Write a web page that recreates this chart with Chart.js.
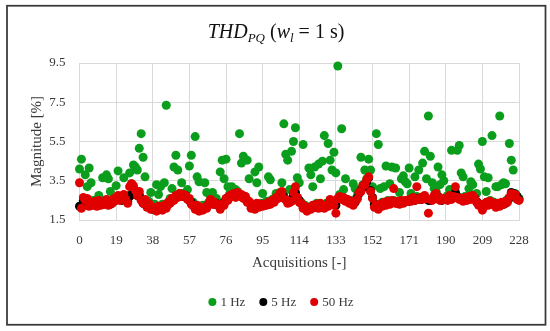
<!DOCTYPE html>
<html><head><meta charset="utf-8">
<script src="https://cdn.jsdelivr.net/npm/chart.js@4.4.1/dist/chart.umd.min.js"></script>
<style>html,body{margin:0;padding:0;background:#fff}canvas{display:block}</style>
</head><body>
<canvas id="c" width="550" height="331"></canvas>
<script>
const seriesNames = ['1 Hz', '5 Hz', '50 Hz'];
const hz1 = [
4.1,4.6,2.5,3.8,3.2,4.15,3.4,2.5,2.45,2.5,
2.75,2.45,3.65,2.5,3.8,3.6,2.95,2.5,2.55,3.25,
4.0,2.65,2.7,3.65,2.75,2.6,3.9,3.35,4.3,4.2,
4.05,5.15,5.9,4.7,3.7,2.4,2.45,2.9,2.2,2.3,
3.3,2.8,3.2,2.3,3.4,7.35,2.4,2.6,3.1,4.2,
4.8,4.05,2.85,3.4,2.85,2.85,3.05,4.25,4.8,2.4,
5.75,3.7,3.45,2.2,2.25,3.4,2.9,2.4,2.6,2.9,
2.45,2.6,2.35,3.95,4.55,3.6,4.6,3.2,2.85,3.2,
2.9,3.05,2.95,5.9,4.4,4.75,2.7,4.55,3.6,2.35,
2.25,3.95,3.4,4.2,2.35,2.85,2.35,2.45,3.7,3.55,
2.55,2.6,2.85,2.8,2.9,3.4,6.4,4.85,4.55,3.05,
5.0,5.5,6.2,3.65,3.4,2.4,5.35,2.25,2.15,4.15,
3.8,3.2,4.2,2.35,4.35,3.6,4.5,5.8,2.35,5.4,
4.55,4.05,4.95,3.9,9.35,2.8,6.15,3.05,3.6,2.55,
2.5,2.5,3.35,3.1,2.7,3.0,4.7,3.3,4.05,3.6,
4.6,4.05,3.2,2.35,5.9,5.35,3.1,2.4,3.2,4.25,
2.5,3.35,4.2,2.5,4.15,2.45,2.9,3.6,3.75,3.45,
3.35,4.15,2.85,2.7,3.7,2.7,4.05,2.65,4.4,5.0,
3.6,6.8,4.75,3.4,3.1,2.95,4.2,3.3,3.8,3.5,
2.65,2.75,3.05,5.05,2.75,2.8,5.05,5.3,3.9,3.7,
2.7,2.65,3.1,3.45,3.3,2.75,2.85,4.35,4.1,5.5,
3.7,2.95,3.65,2.5,5.8,2.4,3.2,3.2,6.8,3.3,
3.4,3.35,2.55,5.4,4.55,4.05,2.85,2.7,2.6
];
const hz5 = [
2.2,2.15,2.5,2.55,2.45,2.3,2.25,2.35,2.35,2.3,
2.4,2.35,2.3,2.35,2.4,2.35,2.3,2.4,2.45,2.55,
2.6,2.55,2.5,2.6,2.6,2.45,2.7,2.8,2.85,2.9,
2.75,2.8,2.55,2.35,2.4,2.25,2.25,2.15,2.05,2.1,
2.05,2.1,2.15,2.1,2.15,2.2,2.3,2.4,2.5,2.55,
2.65,2.7,2.75,2.7,2.7,2.75,2.6,2.5,2.4,2.25,
2.15,2.2,2.1,2.05,2.1,2.1,2.2,2.3,2.45,2.4,
2.3,2.35,2.25,2.15,2.25,2.4,2.55,2.65,2.7,2.7,
2.75,2.7,2.8,2.75,2.7,2.7,2.6,2.5,2.4,2.25,
2.15,2.2,2.3,2.25,2.25,2.3,2.25,2.3,2.3,2.4,
2.45,2.5,2.55,2.65,2.75,2.85,2.7,2.55,2.45,2.4,
2.5,2.75,2.9,2.65,2.5,2.35,2.2,2.15,2.05,2.1,
2.15,2.2,2.15,2.2,2.2,2.25,2.25,2.2,2.2,2.3,
2.45,2.4,2.3,2.25,2.55,2.65,2.6,2.55,2.5,2.45,
2.4,2.35,2.35,2.4,2.6,2.85,3.0,3.15,3.3,3.45,
3.65,3.0,2.65,2.3,2.2,2.15,2.2,2.3,2.3,2.3,
2.35,2.35,2.4,2.45,2.4,2.35,2.4,2.4,2.4,2.45,
2.5,2.45,2.5,2.55,2.5,2.6,2.6,2.55,2.6,2.65,
2.6,2.5,2.5,2.55,2.65,2.8,2.7,2.55,2.5,2.55,
2.55,2.6,2.65,2.6,2.65,2.9,2.7,2.6,2.55,2.5,
2.55,2.55,2.6,2.6,2.65,2.6,2.45,2.35,2.25,2.2,
2.25,2.3,2.3,2.35,2.35,2.3,2.25,2.3,2.25,2.3,
2.3,2.35,2.45,2.6,2.9,2.85,2.8,2.7,2.55
];
const hz50 = [
3.4,2.1,2.65,2.5,2.6,2.2,2.35,2.25,2.45,2.2,
2.5,2.25,2.4,2.3,2.55,2.25,2.4,2.35,2.6,2.5,
2.75,2.5,2.6,2.8,2.55,2.35,3.2,3.35,3.25,3.0,
2.75,2.95,2.5,2.35,2.55,2.15,2.35,2.05,2.15,2.05,
1.95,2.2,2.1,2.0,2.25,2.1,2.4,2.35,2.6,2.5,
2.75,2.65,2.85,2.7,2.8,2.75,2.55,2.6,2.3,2.25,
2.05,2.25,1.95,2.1,2.0,2.15,2.1,2.35,2.55,2.3,
2.4,2.3,2.25,2.05,2.3,2.25,2.6,2.5,2.75,2.7,
2.85,2.65,2.9,2.75,2.8,2.6,2.7,2.4,2.45,2.1,
2.2,2.05,2.35,2.15,2.3,2.2,2.3,2.25,2.4,2.3,
2.5,2.4,2.65,2.6,2.85,2.95,2.6,2.55,2.35,2.4,
2.45,2.9,3.2,2.65,2.4,2.35,2.1,2.2,1.95,2.1,
2.05,2.25,2.15,2.3,2.1,2.35,2.2,2.1,2.25,2.2,
2.55,2.35,2.25,1.85,2.6,2.7,2.55,2.65,2.45,2.55,
2.35,2.45,2.25,2.45,2.55,2.9,2.95,3.25,3.3,3.55,
3.7,2.95,2.6,2.15,2.25,2.05,2.3,2.2,2.4,2.25,
2.45,2.3,2.5,3.1,2.35,2.45,2.3,2.5,2.35,2.5,
2.45,2.55,2.45,2.65,2.5,3.2,2.55,2.65,2.55,2.75,
2.6,1.85,2.55,2.5,2.75,2.85,2.65,2.5,2.6,2.55,
2.6,2.5,2.75,2.55,2.7,3.2,2.65,2.55,2.6,2.45,
2.65,2.5,2.7,2.55,2.75,2.6,2.4,2.25,2.3,2.0,
2.2,2.4,2.25,2.45,2.3,2.35,2.15,2.35,2.2,2.4,
2.3,2.45,2.4,2.65,2.85,2.75,2.8,2.55,2.5
];
const xTicks = [0, 19, 38, 57, 76, 95, 114, 133, 152, 171, 190, 209, 228];
const yTicks = [1.5, 3.5, 5.5, 7.5, 9.5];
const seriesColors = ['#0a9e1c', '#000000', '#e10000'];

const acquisitions = hz1.map((_, i) => i);
function toPoints(vals) { return acquisitions.map(i => ({ x: i, y: vals[i] })); }

const SERIF = "'Liberation Serif', 'Times New Roman', serif";
const TXT = '#3a3a3a';

const decorPlugin = {
  id: 'decor',
  beforeDraw(chart) {
    const ctx = chart.ctx;
    ctx.save();
    ctx.fillStyle = '#fff';
    ctx.fillRect(0, 0, chart.width, chart.height);
    ctx.restore();
  },
  afterDraw(chart) {
    const ctx = chart.ctx;
    ctx.save();
    const parts = [
      { t: 'THD', f: 'italic 20px ' + SERIF, dy: 0 },
      { t: 'PQ', f: 'italic 13px ' + SERIF, dy: 4 },
      { t: ' (', f: '20px ' + SERIF, dy: 0 },
      { t: 'w', f: 'italic 20px ' + SERIF, dy: 0 },
      { t: 'l', f: 'italic 13px ' + SERIF, dy: 4 },
      { t: ' = 1 s)', f: '20px ' + SERIF, dy: 0 }
    ];
    let total = 0;
    parts.forEach(p => { ctx.font = p.f; p.w = ctx.measureText(p.t).width; total += p.w; });
    let x = 276 - total / 2;
    const base = 38;
    ctx.fillStyle = '#111';
    ctx.textBaseline = 'alphabetic';
    ctx.textAlign = 'left';
    parts.forEach(p => { ctx.font = p.f; ctx.fillText(p.t, x, base + p.dy); x += p.w; });

    const legY = 302;
    ctx.font = '13px ' + SERIF;
    ctx.textBaseline = 'middle';
    const items = seriesNames.map((n, i) => ({ n, c: seriesColors[i], w: ctx.measureText(n).width }));
    const gap = 14, dotW = 8, dotGap = 4;
    let lw = 0;
    items.forEach((it, i) => { lw += dotW + dotGap + it.w + (i < items.length - 1 ? gap : 0); });
    let lx = 281 - lw / 2;
    items.forEach(it => {
      ctx.fillStyle = it.c;
      ctx.beginPath();
      ctx.arc(lx + dotW / 2, legY, 4, 0, Math.PI * 2);
      ctx.fill();
      lx += dotW + dotGap;
      ctx.fillStyle = TXT;
      ctx.fillText(it.n, lx, legY + 0.5);
      lx += it.w + gap;
    });

    ctx.strokeStyle = '#383838';
    ctx.lineWidth = 1.75;
    ctx.strokeRect(7, 5.75, 538.5, 319);
    ctx.restore();
  }
};

const ds = (idx, vals, order) => ({
  label: seriesNames[idx],
  data: toPoints(vals),
  backgroundColor: seriesColors[idx],
  borderColor: seriesColors[idx],
  borderWidth: 0,
  pointRadius: 4.5,
  pointHoverRadius: 4.5,
  clip: false,
  order: order
});

new Chart(document.getElementById('c'), {
  type: 'scatter',
  data: {
    datasets: [ds(0, hz1, 2), ds(1, hz5, 1), ds(2, hz50, 0)]
  },
  options: {
    responsive: false,
    animation: false,
    devicePixelRatio: 1,
    layout: { padding: { left: 0, right: 31, top: 63, bottom: 0 } },
    plugins: { legend: { display: false }, tooltip: { enabled: false }, title: { display: false } },
    scales: {
      x: {
        type: 'linear',
        min: 0, max: 228,
        afterBuildTicks: s => { s.ticks = xTicks.map(v => ({ value: v })); },
        afterFit: s => { s.height = 111; },
        grid: { color: '#d9d9d9', lineWidth: 1, drawTicks: false },
        border: { color: '#d9d9d9' },
        ticks: { padding: 13, color: TXT, font: { family: SERIF, size: 13 }, maxRotation: 0, autoSkip: false },
        title: { display: true, text: 'Acquisitions [-]', color: TXT, font: { family: SERIF, size: 15 }, padding: { top: 0, bottom: 59 } }
      },
      y: {
        type: 'linear',
        min: 1.5, max: 9.5,
        afterBuildTicks: s => { s.ticks = yTicks.map(v => ({ value: v })); },
        afterFit: s => { s.width = 79.5; },
        grid: { color: '#d9d9d9', lineWidth: 1, drawTicks: false },
        border: { color: '#d9d9d9' },
        ticks: { padding: 14, color: TXT, font: { family: SERIF, size: 13 }, callback: v => Number(v).toFixed(1) },
        title: { display: true, text: 'Magnitude [%]', color: TXT, font: { family: SERIF, size: 15 }, padding: { top: 28, bottom: 0 } }
      }
    }
  },
  plugins: [decorPlugin]
});
</script>
</body></html>
